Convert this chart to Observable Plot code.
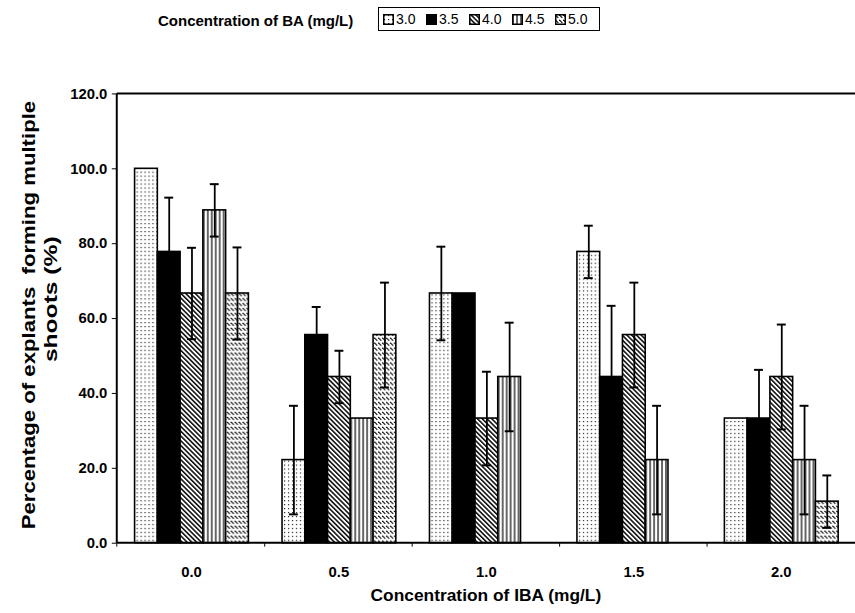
<!DOCTYPE html>
<html>
<head>
<meta charset="utf-8">
<script src="https://cdn.jsdelivr.net/npm/d3@7"></script>
<script src="https://cdn.jsdelivr.net/npm/@observablehq/plot@0.6"></script>
<style>
  html, body { margin: 0; padding: 0; background: #fff; }
  #wrap { width: 855px; height: 613px; overflow: hidden; position: relative; font-family: "Liberation Sans", Arial, sans-serif; }
  #legend { position: relative; height: 40px; width: 855px; }
  #legend .title { position: absolute; left: 158px; top: 12px; font-size: 15px; line-height: 18px; font-weight: bold; white-space: nowrap; }
  #legend .box { position: absolute; left: 378px; top: 7px; width: 222px; height: 24px; border: 1px solid #000; box-sizing: border-box; display: flex; align-items: center; padding-left: 4px; }
  #legend .item { display: flex; align-items: center; font-size: 14px; width: 43px; white-space: nowrap; }
  #legend .item svg { margin-right: 2px; }
</style>
</head>
<body>
<svg width="0" height="0" style="position:absolute">
  <defs>
    <pattern id="p30" width="4" height="4" patternUnits="userSpaceOnUse">
      <rect width="4" height="4" fill="#fff"/>
      <rect x="1" y="1" width="1.2" height="1.2" fill="#222"/>
    </pattern>
    <pattern id="p35" width="4" height="4" patternUnits="userSpaceOnUse">
      <rect width="4" height="4" fill="#000"/>
    </pattern>
    <pattern id="p40" width="3.4" height="10" patternUnits="userSpaceOnUse" patternTransform="rotate(-45)">
      <rect width="3.4" height="10" fill="#fff"/>
      <line x1="0.8" y1="0" x2="0.8" y2="10" stroke="#000" stroke-width="1.5"/>
    </pattern>
    <pattern id="p45" width="4" height="4" patternUnits="userSpaceOnUse">
      <rect width="4" height="4" fill="#fff"/>
      <line x1="1" y1="0" x2="1" y2="4" stroke="#000" stroke-width="1.2"/>
    </pattern>
    <pattern id="p50" width="4" height="5" patternUnits="userSpaceOnUse">
      <rect width="4" height="5" fill="#fff"/>
      <line x1="0.3" y1="0.8" x2="3.3" y2="3.8" stroke="#000" stroke-width="1.1"/>
    </pattern>
  </defs>
</svg>
<div id="wrap">
  <div id="legend"></div>
  <div id="chart"></div>
</div>
<script>
// ---- data ----
const ibaLevels = ["0.0", "0.5", "1.0", "1.5", "2.0"];
const baLevels = ["3.0", "3.5", "4.0", "4.5", "5.0"];
const pct30 = [100.0, 22.2, 66.7, 77.8, 33.3];
const pct35 = [77.8, 55.6, 66.7, 44.4, 33.3];
const pct40 = [66.7, 44.4, 33.3, 55.6, 44.4];
const pct45 = [88.9, 33.3, 44.4, 22.2, 22.2];
const pct50 = [66.7, 55.6, 0, 0, 11.1];
const err30 = [0, 14.5, 12.5, 7, 0];
const err35 = [14.5, 7.5, 0, 19, 13];
const err40 = [12.2, 7, 12.5, 14, 14];
const err45 = [7, 0, 14.5, 14.5, 14.5];
const err50 = [12.3, 14, 0, 0, 7];
const yTicks = [0, 20, 40, 60, 80, 100, 120];
const legendTitle = "Concentration of BA (mg/L)";
const xTitle = "Concentration of IBA (mg/L)";
const yTitleLines = ["Percentage of explants  forming multiple", "shoots (%)"];
const patterns = ["url(#p30)", "url(#p35)", "url(#p40)", "url(#p45)", "url(#p50)"];

const pctSeries = [pct30, pct35, pct40, pct45, pct50];
const errSeries = [err30, err35, err40, err45, err50];
const rows = [];
ibaLevels.forEach((iba, i) => {
  baLevels.forEach((ba, j) => {
    rows.push({iba, ba, value: pctSeries[j][i], err: errSeries[j][i]});
  });
});
const barRows = rows.filter(d => d.value > 0);
const errRows = rows.filter(d => d.err > 0);

// ---- legend ----
const legend = d3.select("#legend");
legend.append("div").attr("class", "title").text(legendTitle);
const box = legend.append("div").attr("class", "box");
baLevels.forEach((ba, j) => {
  const it = box.append("div").attr("class", "item");
  const s = it.append("svg").attr("width", 11).attr("height", 11);
  s.append("rect").attr("x", 0.75).attr("y", 0.75).attr("width", 9.5).attr("height", 9.5)
    .attr("fill", patterns[j]).attr("stroke", "#000").attr("stroke-width", 1.5);
  it.append("span").text(ba);
});

// ---- chart ----
const W = 864, H = 573, mT = 54, mB = 65, mL = 118, mR = 0;
const chart = Plot.plot({
  width: W,
  height: H,
  marginTop: mT,
  marginBottom: mB,
  marginLeft: mL,
  marginRight: mR,
  style: {fontFamily: "'Liberation Sans', Arial, sans-serif", fontSize: "15px", fontWeight: "bold", color: "#000", background: "#fff"},
  fx: {domain: ibaLevels, paddingInner: 0.22, paddingOuter: 0.11, axis: "bottom", tickSize: 0, tickPadding: 23, label: null},
  x: {domain: baLevels, padding: 0, axis: null},
  y: {domain: [0, 120], ticks: yTicks, tickFormat: d3.format(".1f"), tickSize: 5, tickPadding: 5, label: null},
  color: {domain: baLevels, range: patterns},
  marks: [
    Plot.barY(barRows, {fx: "iba", x: "ba", y: "value", fill: "ba", stroke: "#000", strokeWidth: 1.6}),
    Plot.ruleX(errRows, {fx: "iba", x: "ba", y1: d => d.value - d.err, y2: d => d.value + d.err, stroke: "#000", strokeWidth: 1.8}),
    Plot.tickY(errRows, {fx: "iba", x: "ba", y: d => d.value + d.err, stroke: "#000", strokeWidth: 2, insetLeft: 7, insetRight: 7}),
    Plot.tickY(errRows, {fx: "iba", x: "ba", y: d => d.value - d.err, stroke: "#000", strokeWidth: 2, insetLeft: 7, insetRight: 7})
  ]
});
document.getElementById("chart").appendChild(chart);

// ---- move the y axis from the first facet to the frame edge ----
const svg = d3.select(chart);
const ys = chart.scale("y");
const fxs = chart.scale("fx");
const shift = fxs.apply(ibaLevels[0]) - mL;
svg.selectAll('[aria-label^="y-axis"]').each(function () {
  const tr = this.getAttribute("transform") || "";
  this.setAttribute("transform", `translate(${-shift},0) ${tr}`);
});

// ---- frame lines, boundary ticks and titles drawn from the scales ----
const y0 = ys.apply(0), yTop = ys.apply(120);
const g = svg.append("g").attr("stroke", "#000").attr("fill", "none");
g.append("line").attr("x1", mL).attr("x2", mL).attr("y1", yTop).attr("y2", y0).attr("stroke-width", 2);
g.append("line").attr("x1", mL).attr("x2", W - mR).attr("y1", y0).attr("y2", y0).attr("stroke-width", 2);
g.append("line").attr("x1", mL).attr("x2", W - mR).attr("y1", yTop).attr("y2", yTop).attr("stroke-width", 2);
const step = fxs.step, bw = fxs.bandwidth;
ibaLevels.forEach((lv, i) => {
  const bx = fxs.apply(lv) + bw + (step - bw) / 2;
  if (i < ibaLevels.length - 1) {
    g.append("line").attr("x1", bx).attr("x2", bx).attr("y1", y0).attr("y2", y0 + 4).attr("stroke-width", 1);
  }
});
g.append("line").attr("x1", mL).attr("x2", mL).attr("y1", y0).attr("y2", y0 + 4).attr("stroke-width", 1);

const t = svg.append("g").attr("fill", "#000").attr("font-weight", "bold").attr("text-anchor", "middle");
const xMid = (fxs.apply(ibaLevels[0]) + fxs.apply(ibaLevels[ibaLevels.length - 1]) + bw) / 2;
t.append("text").attr("x", xMid).attr("y", y0 + 53).attr("dy", "0.35em").attr("font-size", 17)
  .attr("textLength", 233).attr("lengthAdjust", "spacingAndGlyphs").text(xTitle);
const yMid = (yTop + y0) / 2 - 3;
t.append("text").attr("transform", `translate(29,${yMid}) rotate(-90)`).attr("dy", "0.35em").attr("font-size", 19)
  .attr("textLength", 433).attr("lengthAdjust", "spacingAndGlyphs").text(yTitleLines[0]);
t.append("text").attr("transform", `translate(51,${yMid - 16}) rotate(-90)`).attr("dy", "0.35em").attr("font-size", 19)
  .attr("textLength", 127).attr("lengthAdjust", "spacingAndGlyphs").text(yTitleLines[1]);
</script>
</body>
</html>
